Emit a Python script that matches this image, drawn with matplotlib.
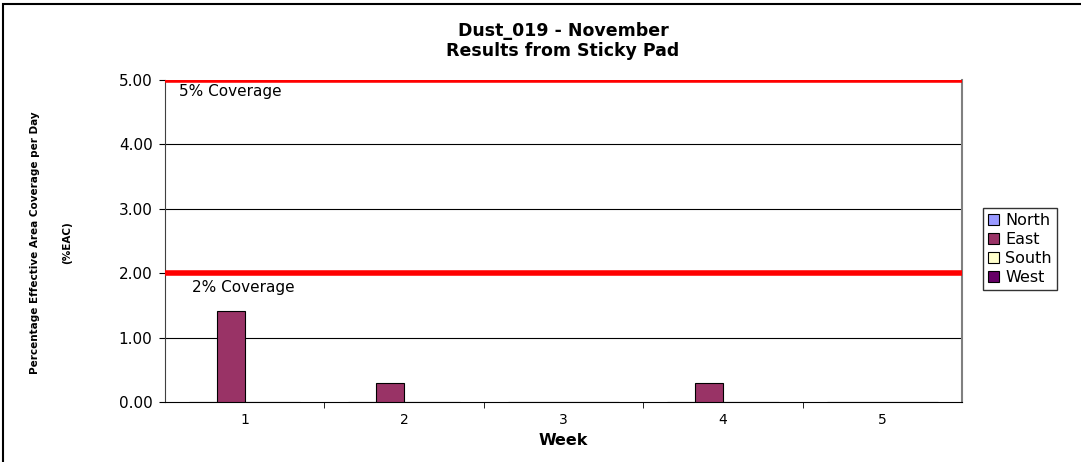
import numpy as np
import matplotlib
matplotlib.use("Agg")
import matplotlib.pyplot as plt
from matplotlib.patches import Rectangle

weeks = ["1", "2", "3", "4", "5"]
series = ["North", "East", "South", "West"]
north = [0, 0, 0, 0, 0]
east = [1.42, 0.29, 0, 0.29, 0]
south = [0, 0, 0, 0, 0]
west = [0, 0, 0, 0, 0]
colors = ["#9999FF", "#993366", "#FFFFCC", "#660066"]
limits = [5.0, 2.0]
limit_labels = ["5% Coverage", "2% Coverage"]

plt.rcParams["font.family"] = ["DejaVu Sans"]

fig = plt.figure(figsize=(10.81, 4.62), dpi=100)
W, H = 1081, 462
ax = fig.add_axes([165 / W, 1 - 402 / H, (962 - 165) / W, (402 - 80) / H])

# outer chart border
fig.patches.append(Rectangle((3 / W, -0.1), 1.2, 1.1 - 4 / H, transform=fig.transFigure,
                             fill=False, edgecolor="black", linewidth=1.5))

x = np.arange(len(weeks))
bw = 0.175
for i, (name, vals) in enumerate(zip(series, [north, east, south, west])):
    pos = x + (i - 1.5) * bw
    ax.bar(pos, vals, width=bw, color=colors[i], edgecolor="black", linewidth=0.8,
           label=name, zorder=3)

for yv in [1, 2, 3, 4]:
    ax.axhline(yv, color="black", linewidth=0.8, zorder=1)

for lim in limits:
    ax.axhline(lim, color="#FF0000", linewidth=4, zorder=4)

ax.text(-0.41, 4.82, limit_labels[0], fontsize=11, va="center")
ax.text(-0.33, 1.78, limit_labels[1], fontsize=11, va="center")

ax.set_xlim(-0.5, 4.5)
ax.set_ylim(0, 5)
ax.set_yticks([0, 1, 2, 3, 4, 5])
ax.set_yticklabels(["%.2f" % v for v in [0, 1, 2, 3, 4, 5]], fontsize=11)
ax.set_xticks(x)
ax.set_xticklabels(weeks, fontsize=10)
ax.tick_params(axis="x", length=0, pad=8)
ax.set_xticks(np.arange(0.5, 4.5, 1), minor=True)
ax.tick_params(axis="x", which="minor", length=4, direction="out")
ax.tick_params(axis="y", length=4, direction="out", pad=5)

ax.spines["top"].set_visible(False)
ax.spines["right"].set_color("#808080")
ax.spines["right"].set_linewidth(1.5)
ax.spines["left"].set_color("#404040")
ax.spines["bottom"].set_color("black")

ax.set_xlabel("Week", fontsize=11.5, fontweight="bold", labelpad=4)

fig.text(563 / W, 1 - 41 / H, "Dust_019 - November\nResults from Sticky Pad", ha="center",
         va="center", fontsize=12.5, fontweight="bold", linespacing=1.1)

fig.text(35 / W, 1 - 243 / H, "Percentage Effective Area Coverage per Day", rotation=90,
         ha="center", va="center", fontsize=7.5, fontweight="bold")
fig.text(67 / W, 1 - 243 / H, "(%EAC)", rotation=90, ha="center", va="center",
         fontsize=7.5, fontweight="bold")

leg = ax.legend(loc="center left", bbox_to_anchor=(983 / W, 1 - 249 / H),
                bbox_transform=fig.transFigure, fontsize=11.5, frameon=True, fancybox=False,
                edgecolor="black", handlelength=0.7, handleheight=0.7, handletextpad=0.4,
                labelspacing=0.25, borderpad=0.3, borderaxespad=0)
leg.get_frame().set_linewidth(1.0)

fig.savefig("out.png", dpi=100)
